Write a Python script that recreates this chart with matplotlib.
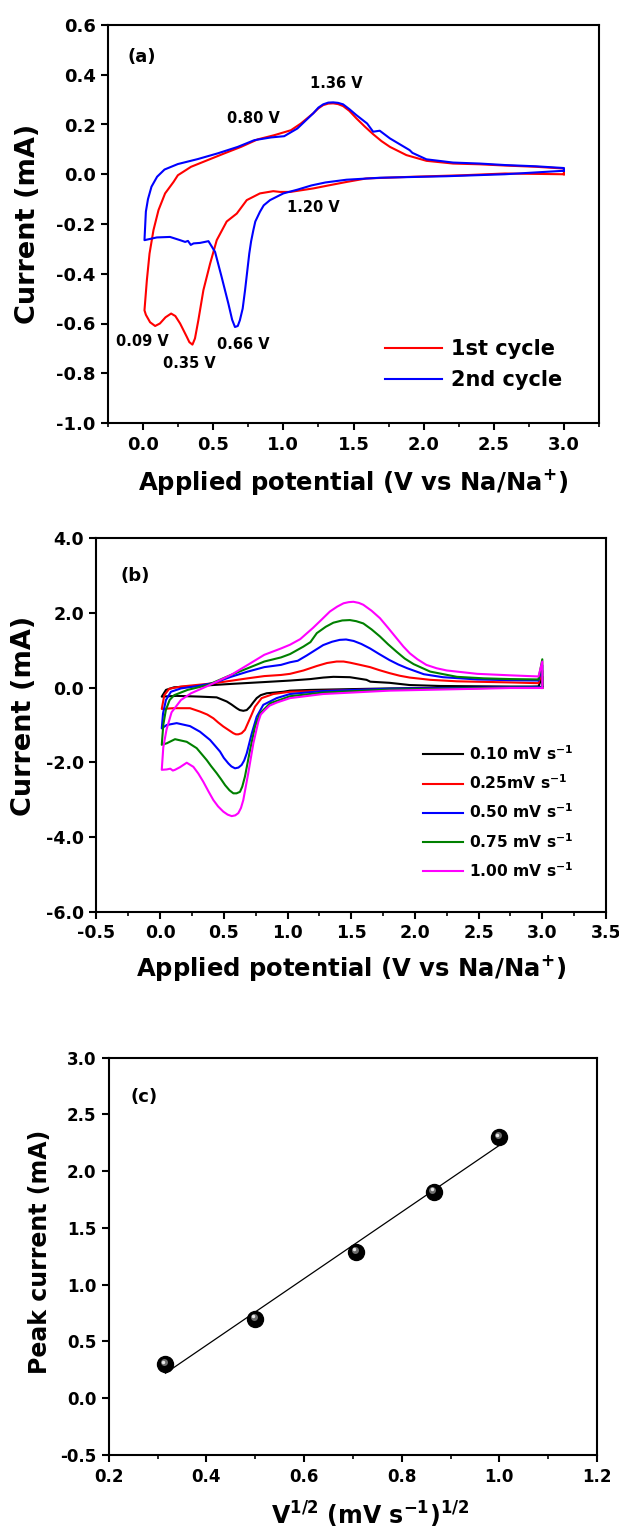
import numpy as np
import matplotlib
matplotlib.use("Agg")
import matplotlib.pyplot as plt
from matplotlib.ticker import MultipleLocator, FormatStrFormatter
from matplotlib.transforms import offset_copy

plt.rcParams['font.family'] = ['DejaVu Sans']
plt.rcParams['font.weight'] = 'bold'
plt.rcParams['axes.labelweight'] = 'bold'
plt.rcParams['mathtext.default'] = 'bf'
plt.rcParams['axes.unicode_minus'] = False

# ---------------- Panel (a): 1st and 2nd CV cycles ----------------
cycle1_v = [3.00, 2.58, 2.28, 1.925, 1.59, 1.45, 1.33, 1.213, 1.05, 0.976, 0.928, 0.833, 0.739,
            0.668, 0.596, 0.525, 0.478, 0.430, 0.394, 0.370, 0.352, 0.330, 0.312, 0.264, 0.230,
            0.200, 0.160, 0.120, 0.086, 0.050, 0.020, 0.010,
            0.027, 0.046, 0.074, 0.110, 0.157, 0.217, 0.248, 0.342, 0.461, 0.580, 0.698, 0.816,
            0.935, 1.054, 1.125, 1.213, 1.250, 1.284, 1.320, 1.355, 1.390, 1.426, 1.470, 1.520,
            1.580, 1.640, 1.700, 1.760, 1.877, 2.020, 2.210, 2.400, 2.580, 2.800, 3.000, 3.000]
cycle1_i = [0.000, 0.003, -0.004, -0.010, -0.017, -0.031, -0.044, -0.057, -0.071, -0.071, -0.068,
            -0.077, -0.104, -0.158, -0.190, -0.265, -0.359, -0.466, -0.587, -0.660, -0.685,
            -0.675, -0.654, -0.600, -0.570, -0.560, -0.575, -0.600, -0.610, -0.595, -0.565, -0.547,
            -0.426, -0.319, -0.225, -0.144, -0.077, -0.031, -0.004, 0.030, 0.057, 0.084, 0.110,
            0.140, 0.157, 0.177, 0.204, 0.245, 0.265, 0.278, 0.284, 0.285, 0.282, 0.274, 0.255,
            0.225, 0.192, 0.161, 0.133, 0.110, 0.077, 0.054, 0.043, 0.040, 0.035, 0.030, 0.023,
            0.000]

cycle2_v = [3.00, 2.58, 2.16, 1.69, 1.45, 1.30, 1.20, 1.10, 1.00, 0.905, 0.860, 0.833, 0.800,
            0.786, 0.770, 0.757, 0.727, 0.710, 0.690, 0.675, 0.655, 0.635, 0.608, 0.560, 0.513,
            0.466, 0.406, 0.360, 0.340, 0.320, 0.300, 0.264, 0.192, 0.098, 0.010,
            0.020, 0.035, 0.060, 0.100, 0.153, 0.248, 0.390, 0.532, 0.675, 0.793, 0.912, 1.006,
            1.100, 1.213, 1.250, 1.284, 1.320, 1.355, 1.390, 1.426, 1.470, 1.520, 1.597, 1.640,
            1.687, 1.760, 1.900, 1.920, 2.020, 2.210, 2.400, 2.580, 2.800, 3.000, 3.000]
cycle2_i = [0.014, 0.000, -0.008, -0.014, -0.022, -0.033, -0.045, -0.062, -0.077, -0.104, -0.125,
            -0.151, -0.190, -0.225, -0.270, -0.319, -0.466, -0.540, -0.587, -0.610, -0.614,
            -0.585, -0.520, -0.413, -0.312, -0.269, -0.276, -0.278, -0.284, -0.268, -0.272,
            -0.265, -0.252, -0.254, -0.265,
            -0.150, -0.100, -0.050, -0.010, 0.019, 0.041, 0.061, 0.084, 0.110, 0.137, 0.148, 0.153,
            0.184, 0.245, 0.268, 0.281, 0.288, 0.289, 0.287, 0.281, 0.262, 0.238, 0.204, 0.171,
            0.175, 0.144, 0.097, 0.086, 0.060, 0.047, 0.043, 0.037, 0.032, 0.025, 0.014]

peak_labels_a = ["1.36 V", "0.80 V", "1.20 V", "0.09 V", "0.35 V", "0.66 V"]
peak_label_v = [1.376, 0.786, 1.215, -0.006, 0.333, 0.712]
peak_label_i = [0.363, 0.224, -0.134, -0.674, -0.761, -0.685]

# ---------------- Panel (b): CVs at several scan rates ----------------
rate_labels = ["0.10 mV s$^{-1}$", "0.25mV s$^{-1}$", "0.50 mV s$^{-1}$",
               "0.75 mV s$^{-1}$", "1.00 mV s$^{-1}$"]
rate_colors = ["black", "#ff0000", "#0000ff", "#008000", "#ff00ff"]

r010_v = [3.00, 2.75, 1.80, 1.18, 1.02, 0.967, 0.837, 0.790, 0.758, 0.730, 0.706, 0.680, 0.653,
          0.625, 0.601, 0.560, 0.523, 0.444, 0.313, 0.130, 0.013,
          0.046, 0.110, 0.295, 0.556, 0.818, 1.020, 1.180, 1.280, 1.360, 1.490, 1.620, 1.650,
          1.800, 1.960, 2.200, 2.750, 2.970, 3.000, 3.000]
r010_i = [0.02, 0.01, -0.02, -0.06, -0.08, -0.11, -0.15, -0.20, -0.28, -0.40, -0.51, -0.60, -0.62,
          -0.60, -0.55, -0.45, -0.37, -0.26, -0.24, -0.22, -0.24,
          -0.06, 0.01, 0.045, 0.10, 0.15, 0.19, 0.23, 0.27, 0.29, 0.28, 0.21, 0.16,
          0.13, 0.07, 0.045, 0.03, 0.03, 0.30, 0.02]

r025_v = [3.00, 2.75, 2.07, 1.54, 1.02, 0.889, 0.797, 0.745, 0.706, 0.666, 0.640, 0.614, 0.595,
          0.575, 0.540, 0.496, 0.455, 0.418, 0.370, 0.313, 0.235, 0.104, 0.013,
          0.033, 0.072, 0.164, 0.426, 0.688, 0.818, 0.949, 1.020, 1.125, 1.230, 1.310, 1.386,
          1.440, 1.490, 1.570, 1.648, 1.720, 1.800, 1.880, 1.960, 2.120, 2.330, 2.750, 2.970,
          3.000, 3.000]
r025_i = [0.00, 0.00, -0.03, -0.06, -0.11, -0.17, -0.28, -0.51, -0.82, -1.13, -1.22, -1.25, -1.25,
          -1.22, -1.14, -1.04, -0.93, -0.82, -0.72, -0.64, -0.55, -0.55, -0.57,
          -0.20, -0.03, 0.03, 0.12, 0.25, 0.31, 0.34, 0.37, 0.46, 0.58, 0.66, 0.70,
          0.70, 0.67, 0.61, 0.55, 0.47, 0.39, 0.32, 0.27, 0.21, 0.17, 0.14, 0.12,
          0.45, 0.00]

r050_v = [3.00, 2.75, 1.80, 1.28, 1.02, 0.915, 0.810, 0.758, 0.720, 0.680, 0.660, 0.640, 0.615,
          0.588, 0.560, 0.536, 0.500, 0.470, 0.430, 0.392, 0.313, 0.235, 0.130, 0.052, 0.013,
          0.023, 0.046, 0.085, 0.164, 0.295, 0.426, 0.556, 0.688, 0.818, 0.949, 1.020, 1.080,
          1.150, 1.280, 1.350, 1.410, 1.460, 1.520, 1.580, 1.648, 1.720, 1.800, 1.870, 1.940,
          2.070, 2.220, 2.490, 2.750, 2.970, 3.000, 3.000]
r050_i = [0.02, 0.01, -0.03, -0.09, -0.17, -0.28, -0.46, -0.78, -1.22, -1.76, -1.95, -2.07, -2.14,
          -2.16, -2.11, -2.03, -1.88, -1.71, -1.55, -1.40, -1.18, -1.03, -0.95, -1.00, -1.09,
          -0.69, -0.33, -0.11, -0.02, 0.045, 0.13, 0.29, 0.43, 0.55, 0.61, 0.68, 0.72,
          0.86, 1.14, 1.23, 1.28, 1.29, 1.25, 1.17, 1.05, 0.90, 0.74, 0.62, 0.52,
          0.36, 0.28, 0.22, 0.20, 0.19, 0.60, 0.02]

r075_v = [3.00, 2.75, 1.80, 1.28, 1.02, 0.863, 0.784, 0.745, 0.706, 0.666, 0.645, 0.627, 0.600,
          0.575, 0.545, 0.510, 0.480, 0.444, 0.400, 0.366, 0.287, 0.209, 0.117, 0.052, 0.013,
          0.025, 0.045, 0.075, 0.111, 0.216, 0.373, 0.556, 0.688, 0.818, 0.949, 1.020, 1.125,
          1.180, 1.230, 1.300, 1.360, 1.430, 1.490, 1.540, 1.595, 1.660, 1.726, 1.790, 1.857,
          1.920, 1.990, 2.120, 2.330, 2.540, 2.750, 2.970, 3.000, 3.000]
r075_i = [0.00, 0.00, -0.05, -0.13, -0.23, -0.42, -0.69, -1.04, -1.67, -2.38, -2.65, -2.79, -2.83,
          -2.83, -2.75, -2.61, -2.46, -2.29, -2.10, -1.94, -1.62, -1.45, -1.38, -1.49, -1.53,
          -1.00, -0.60, -0.33, -0.20, -0.06, 0.07, 0.34, 0.52, 0.70, 0.81, 0.90, 1.10,
          1.22, 1.46, 1.63, 1.74, 1.80, 1.81, 1.78, 1.72, 1.56, 1.37, 1.16, 0.96,
          0.78, 0.63, 0.43, 0.29, 0.25, 0.23, 0.22, 0.76, 0.00]

r100_v = [3.00, 2.75, 1.80, 1.28, 1.02, 0.915, 0.860, 0.823, 0.790, 0.771, 0.732, 0.692, 0.653,
          0.635, 0.614, 0.590, 0.562, 0.530, 0.496, 0.455, 0.418, 0.380, 0.339, 0.300, 0.261,
          0.209, 0.156, 0.117, 0.100, 0.080, 0.052, 0.013,
          0.025, 0.050, 0.090, 0.164, 0.243, 0.373, 0.556, 0.688, 0.818, 0.949, 1.020, 1.100,
          1.200, 1.270, 1.333, 1.390, 1.440, 1.480, 1.517, 1.560, 1.595, 1.660, 1.726, 1.790,
          1.857, 1.910, 1.960, 2.020, 2.090, 2.170, 2.250, 2.490, 2.750, 2.970, 3.000, 3.000]
r100_i = [-0.01, -0.01, -0.08, -0.17, -0.28, -0.40, -0.48, -0.60, -0.72, -0.91, -1.49, -2.29, -3.01,
          -3.22, -3.36, -3.42, -3.44, -3.40, -3.32, -3.18, -3.01, -2.78, -2.52, -2.30, -2.12,
          -2.01, -2.13, -2.20, -2.22, -2.17, -2.19, -2.20,
          -1.60, -1.13, -0.66, -0.33, -0.15, 0.045, 0.34, 0.61, 0.88, 1.05, 1.15, 1.30,
          1.60, 1.83, 2.04, 2.17, 2.26, 2.29, 2.30, 2.27, 2.22, 2.06, 1.86, 1.60,
          1.32, 1.10, 0.92, 0.76, 0.61, 0.52, 0.46, 0.37, 0.33, 0.30, 0.70, -0.01]

# ---------------- Panel (c): peak current vs sqrt(scan rate) ----------------
scan_rates = [0.10, 0.25, 0.50, 0.75, 1.00]
peak_current = [0.30, 0.70, 1.29, 1.82, 2.30]

# ------------------------------------------------------------------------
W, H = 619, 1533
fig = plt.figure(figsize=(W / 100, H / 100), dpi=100)


def axes_px(left, right, top, bottom):
    return fig.add_axes([left / W, 1 - bottom / H, (right - left) / W, (bottom - top) / H])


def style(ax, labelsize=12.5):
    for s in ax.spines.values():
        s.set_linewidth(1.5)
    ax.tick_params(which='major', direction='out', length=5, width=1.5,
                   labelsize=labelsize, pad=4, top=False, right=False)
    ax.tick_params(which='minor', direction='out', length=3, width=1.2,
                   top=False, right=False)
    ax.yaxis.set_major_formatter(FormatStrFormatter('%.1f'))
    ax.xaxis.set_major_formatter(FormatStrFormatter('%.1f'))


# ---- (a)
axA = axes_px(108, 599, 25, 423)
axA.plot(cycle1_v, cycle1_i, color='#ff0000', lw=1.5, label='1st cycle')
axA.plot(cycle2_v, cycle2_i, color='#0000ff', lw=1.5, label='2nd cycle')
axA.set_xlim(-0.25, 3.25)
axA.set_ylim(-1.0, 0.6)
axA.xaxis.set_major_locator(MultipleLocator(0.5))
axA.xaxis.set_minor_locator(MultipleLocator(0.25))
axA.yaxis.set_major_locator(MultipleLocator(0.2))
style(axA, 13)
for t, x, y in zip(peak_labels_a, peak_label_v, peak_label_i):
    axA.text(x, y, t, fontsize=10.5, fontweight='bold', ha='center', va='center')
axA.text(0.069, 0.92, '(a)', transform=axA.transAxes, fontsize=13, ha='center', va='center')
axA.set_xlabel('Applied potential (V vs Na/Na$^{+}$)', fontsize=17.5)
axA.set_ylabel('Current (mA)', fontsize=19.5)
axA.xaxis.set_label_coords(0.5, -0.1475)
axA.yaxis.set_label_coords(-0.163, 0.5)
axA.xaxis.label.set_va('center')
axA.yaxis.label.set_va('center')
axA.legend(loc='upper left', bbox_to_anchor=(0.564, 0.2105), frameon=False, fontsize=15,
           handlelength=2.74, handletextpad=0.44, labelspacing=0.54, borderpad=0,
           borderaxespad=0)

# ---- (b)
axB = axes_px(96.4, 606, 538.3, 911.7)
for v, i, c, lab in zip([r010_v, r025_v, r050_v, r075_v, r100_v],
                        [r010_i, r025_i, r050_i, r075_i, r100_i], rate_colors, rate_labels):
    axB.plot(v, i, color=c, lw=1.5, label=lab)
axB.set_xlim(-0.5, 3.5)
axB.set_ylim(-6.0, 4.0)
axB.xaxis.set_major_locator(MultipleLocator(0.5))
axB.xaxis.set_minor_locator(MultipleLocator(0.25))
axB.yaxis.set_major_locator(MultipleLocator(2.0))
style(axB, 12.5)
axB.text(0.076, 0.899, '(b)', transform=axB.transAxes, fontsize=13, ha='center', va='center')
axB.set_xlabel('Applied potential (V vs Na/Na$^{+}$)', fontsize=17.5)
axB.set_ylabel('Current (mA)', fontsize=19.5)
axB.xaxis.set_label_coords(0.5, -0.152)
axB.yaxis.set_label_coords(-0.1425, 0.525)
axB.xaxis.label.set_va('center')
axB.yaxis.label.set_va('center')
axB.legend(loc='upper left', bbox_to_anchor=(0.641, 0.449), frameon=False, fontsize=11.2,
           handlelength=2.55, handletextpad=0.42, labelspacing=0.68, borderpad=0,
           borderaxespad=0)

# ---- (c)
axC = axes_px(108.7, 597, 1057.7, 1455)
xs = np.sqrt(scan_rates)
coef = np.polyfit(xs, peak_current, 1)
axC.plot(xs, np.polyval(coef, xs), color='black', lw=0.9)
axC.plot(xs, peak_current, 'o', color='black', ms=11.5, zorder=3)
axC.plot(xs, peak_current, 'o', color='#6e6e6e', ms=5, mew=0, zorder=4,
         transform=offset_copy(axC.transData, fig=fig, x=-1.5, y=2.0, units='dots'))
axC.plot(xs, peak_current, 'o', color='#e8e8e8', ms=2.5, mew=0, zorder=5,
         transform=offset_copy(axC.transData, fig=fig, x=-2.0, y=2.5, units='dots'))
axC.set_xlim(0.2, 1.2)
axC.set_ylim(-0.5, 3.0)
axC.xaxis.set_major_locator(MultipleLocator(0.2))
axC.xaxis.set_minor_locator(MultipleLocator(0.1))
axC.yaxis.set_major_locator(MultipleLocator(0.5))
style(axC, 12)
axC.text(0.072, 0.90, '(c)', transform=axC.transAxes, fontsize=13, ha='center', va='center')
axC.set_xlabel('V$^{1/2}$ (mV s$^{-1}$)$^{1/2}$', fontsize=17)
axC.set_ylabel('Peak current (mA)', fontsize=17)
axC.xaxis.set_label_coords(0.535, -0.151)
axC.yaxis.set_label_coords(-0.141, 0.512)
axC.xaxis.label.set_va('center')
axC.yaxis.label.set_va('center')

fig.savefig('out.png', dpi=100)
